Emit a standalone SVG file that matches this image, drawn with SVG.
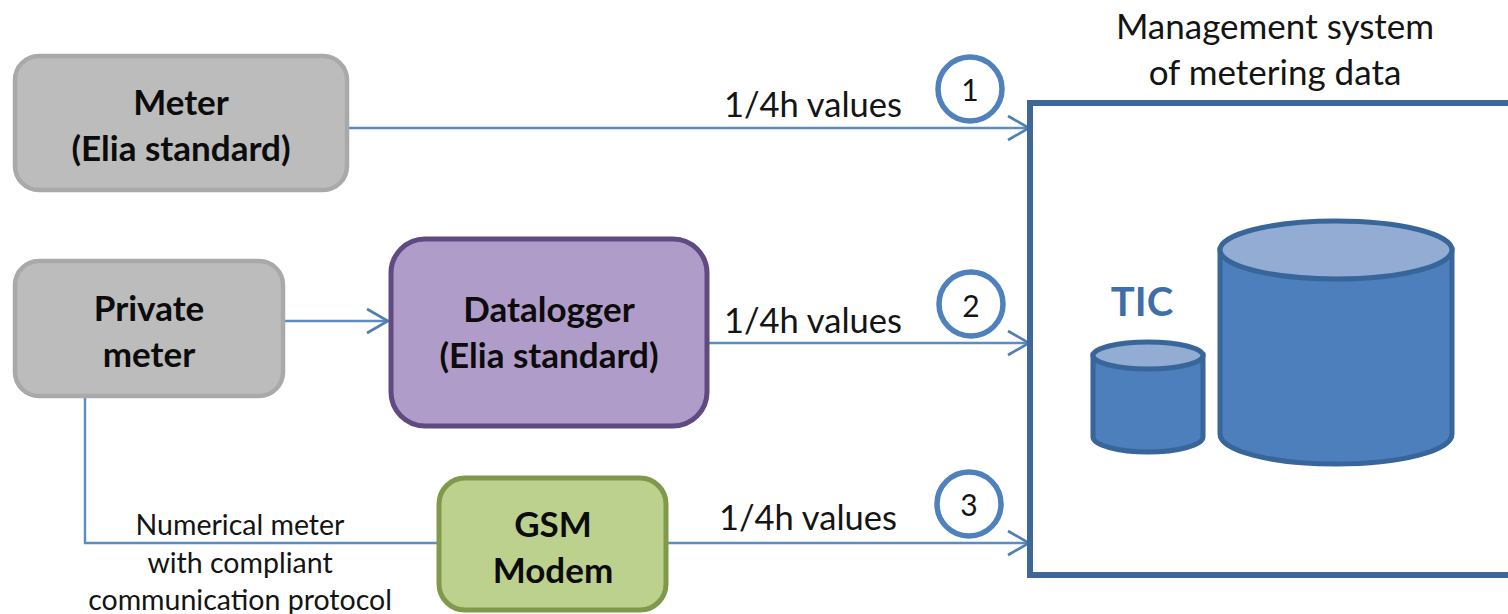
<svg xmlns="http://www.w3.org/2000/svg" width="1508" height="614" viewBox="0 0 1508 614">
<defs>
<marker id="arrow" markerUnits="userSpaceOnUse" markerWidth="26" markerHeight="30" refX="23" refY="15" orient="auto"><path d="M2 3 L23 15 L2 27" fill="none" stroke="#4f7fb3" stroke-width="2.6"/></marker>
</defs>
<style>
text{font-family:Lato,"Liberation Sans",sans-serif;text-anchor:middle;fill:#141414}
.b{font-weight:700;font-size:35px;fill:#0c0c0c}
.l{font-size:34.500px}
.n{font-size:30px}
.m{font-size:35px}
.s{font-size:28.500px}
.grey{fill:#bcbcbc;stroke:#a9a9a9;stroke-width:4.500}
.c{fill:#fff;stroke:#4f81bd;stroke-width:5.500}
.cyl{fill:#4c7fbb;stroke:#38659a;stroke-width:5}
.top{fill:#92acd3;stroke:#38659a;stroke-width:5}
.line{fill:none;stroke:#5d8dc0;stroke-width:2.400}
</style>
<rect width="1508" height="614" fill="#fff"/>
<g id="connectors">
<path class="line" d="M348 128H1029" marker-end="url(#arrow)"/>
<path class="line" d="M284 321H388" marker-end="url(#arrow)"/>
<path class="line" d="M708 343H1029" marker-end="url(#arrow)"/>
<path class="line" d="M666 543H1029" marker-end="url(#arrow)"/>
<path class="line" d="M85 396V543H438"/>
</g>
<g id="meter"><rect class="grey" x="15" y="56" width="332" height="134" rx="24"/><text class="b" x="181" y="115">Meter</text><text class="b" x="181" y="161">(Elia standard)</text></g>
<g id="private-meter"><rect class="grey" x="15" y="261" width="268" height="135" rx="24"/><text class="b" x="149" y="321">Private</text><text class="b" x="149" y="367">meter</text></g>
<g id="datalogger"><rect x="391" y="239" width="316" height="187" rx="34" fill="#b09cc8" stroke="#5f4a82" stroke-width="5"/><text class="b" x="549" y="322">Datalogger</text><text class="b" x="549" y="368">(Elia standard)</text></g>
<g id="gsm-modem"><rect x="439" y="478" width="227" height="132" rx="26" fill="#bcd18e" stroke="#7f9a4a" stroke-width="5"/><text class="b" x="553" y="537">GSM</text><text class="b" x="553" y="583">Modem</text></g>
<g id="management-system">
<path d="M1508 103H1030V575H1508" fill="#fff" stroke="#3f6797" stroke-width="6"/>
<text class="m" x="1275" y="39">Management system</text><text class="m" x="1275" y="85">of metering data</text>
</g>
<g id="tic-small">
<path class="cyl" d="M1093 355V437C1093 445 1118 452 1148 452S1203 445 1203 437V355Z"/>
<ellipse class="top" cx="1148" cy="355.500" rx="55" ry="13.500"/>
<text x="1142" y="316" font-size="40" font-weight="700" style="fill:#3f6fa8">TIC</text>
</g>
<g id="tic-large">
<path class="cyl" d="M1220 250V434C1220 451 1272 464 1336 464S1452 451 1452 434V250Z"/>
<ellipse class="top" cx="1336" cy="250" rx="116" ry="29"/>
</g>
<g id="label-1"><text class="l" x="813" y="117">1/4h values</text><circle class="c" cx="970" cy="89" r="32"/><text class="n" x="970" y="101">1</text></g>
<g id="label-2"><text class="l" x="813" y="333">1/4h values</text><circle class="c" cx="971" cy="304" r="32"/><text class="n" x="971" y="317">2</text></g>
<g id="label-3"><text class="l" x="808" y="530">1/4h values</text><circle class="c" cx="969" cy="504" r="32"/><text class="n" x="969" y="516">3</text></g>
<g id="numerical-label"><text class="s" x="240" y="535">Numerical meter</text><text class="s" x="240" y="573">with compliant</text><text class="s" x="240" y="610">communication protocol</text></g>
</svg>
